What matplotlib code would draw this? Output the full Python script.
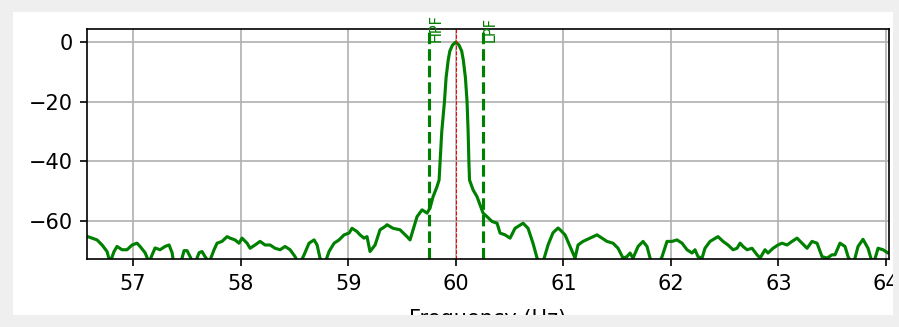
import matplotlib
matplotlib.use("Agg")
import matplotlib.pyplot as plt
from matplotlib.patches import Rectangle

# spectrum (Hz, dB)
freq = [56.572, 56.665, 56.712, 56.758, 56.786, 56.823, 56.851, 56.898, 56.944, 56.991,
        57.037, 57.065, 57.112, 57.149, 57.177, 57.205, 57.251, 57.297, 57.335, 57.363,
        57.381, 57.437, 57.474, 57.502, 57.530, 57.567, 57.614, 57.641, 57.669, 57.707,
        57.753, 57.781, 57.827, 57.874, 57.902, 57.948, 57.985, 58.013, 58.060, 58.088,
        58.134, 58.181, 58.227, 58.274, 58.320, 58.367, 58.413, 58.460, 58.506, 58.543,
        58.590, 58.636, 58.683, 58.711, 58.738, 58.776, 58.822, 58.869, 58.915, 58.962,
        59.008, 59.036, 59.082, 59.110, 59.147, 59.175, 59.203, 59.250, 59.296, 59.343,
        59.361, 59.417, 59.482, 59.547, 59.575, 59.603, 59.640, 59.687, 59.733, 59.761,
        59.789, 59.826, 59.845, 59.855, 59.870, 59.895, 59.910, 59.930, 59.945, 59.970,
        60.000, 60.030, 60.055, 60.070, 60.090, 60.105, 60.115, 60.122, 60.128, 60.161,
        60.198, 60.226, 60.254, 60.291, 60.337, 60.384, 60.412, 60.458, 60.505, 60.551,
        60.626, 60.672, 60.718, 60.756, 60.802, 60.858, 60.904, 60.951, 60.970, 61.016,
        61.062, 61.109, 61.137, 61.183, 61.248, 61.313, 61.360, 61.406, 61.462, 61.509,
        61.555, 61.592, 61.620, 61.648, 61.695, 61.741, 61.778, 61.825, 61.881, 61.918,
        61.964, 62.011, 62.057, 62.104, 62.150, 62.197, 62.224, 62.252, 62.290, 62.317,
        62.364, 62.438, 62.485, 62.531, 62.578, 62.615, 62.643, 62.671, 62.708, 62.754,
        62.801, 62.829, 62.875, 62.903, 62.950, 62.996, 63.033, 63.080, 63.126, 63.173,
        63.219, 63.266, 63.312, 63.359, 63.405, 63.452, 63.498, 63.526, 63.572, 63.619,
        63.647, 63.693, 63.740, 63.786, 63.833, 63.879, 63.926, 63.972, 64.019, 64.040]
power_db = [-65.2, -66.4, -68.1, -70.3, -74.0, -70.3, -68.6, -69.7, -69.7, -68.1,
            -67.5, -68.6, -70.7, -74.0, -71.4, -69.1, -69.7, -68.6, -68.1, -70.7,
            -75.0, -75.0, -70.0, -70.0, -72.0, -75.0, -70.7, -70.3, -72.0, -74.0,
            -69.7, -67.5, -66.9, -65.3, -65.8, -66.4, -67.5, -65.8, -67.5, -69.2,
            -68.1, -66.9, -68.1, -68.1, -69.2, -69.7, -68.6, -69.7, -72.0, -75.0,
            -71.4, -67.5, -66.4, -68.1, -72.5, -75.0, -70.3, -67.5, -66.4, -64.7,
            -64.1, -62.5, -63.6, -64.7, -65.8, -65.3, -70.3, -68.1, -63.0, -61.9,
            -61.3, -62.5, -63.0, -65.3, -66.4, -63.0, -58.6, -56.3, -57.4, -55.7,
            -51.9, -48.5, -46.3, -40.0, -30.0, -20.0, -12.0, -6.0, -3.0, -1.0,
            0.0, -1.0, -3.0, -6.0, -12.0, -20.0, -30.0, -40.0, -46.3, -49.6,
            -51.9, -54.6, -57.4, -58.6, -60.2, -60.8, -64.1, -64.7, -65.8, -62.5,
            -60.8, -62.5, -67.5, -72.5, -75.0, -68.1, -64.0, -62.4, -63.0, -64.7,
            -68.6, -72.5, -68.1, -66.9, -65.8, -64.7, -65.8, -66.9, -67.5, -69.2,
            -72.5, -72.0, -70.8, -72.5, -68.6, -66.9, -68.6, -75.0, -75.0, -72.0,
            -66.9, -66.9, -66.4, -67.5, -69.7, -70.8, -69.7, -72.0, -72.5, -69.2,
            -66.9, -65.3, -66.9, -68.1, -69.7, -69.2, -67.5, -68.6, -69.7, -69.2,
            -71.4, -72.5, -69.7, -70.8, -69.2, -68.1, -67.5, -68.1, -66.9, -65.8,
            -67.5, -69.2, -66.9, -67.5, -72.0, -72.5, -71.4, -71.4, -67.5, -68.6,
            -72.0, -75.0, -68.6, -66.2, -69.2, -75.0, -69.2, -69.7, -70.8, -70.5]

f0 = 60.0
hpf_cut = 59.75
lpf_cut = 60.25

fig = plt.figure(figsize=(899 / 150, 327 / 150), dpi=150)
ax = fig.add_axes([0.0968, 0.2080, 0.8921, 0.7034])

ax.plot(freq, power_db, color='g')
ax.axvline(f0, color='r', lw=0.5, ls='--')
ax.axvline(hpf_cut, color='g', ls='--')
ax.axvline(lpf_cut, color='g', ls='--')
ax.text(hpf_cut, 0, 'HPF', rotation=90, va='bottom', color='g', fontsize=7)
ax.text(lpf_cut, 0, 'LPF', rotation=90, va='bottom', color='g', fontsize=7)

ax.set_xlim(56.572, 64.028)
ax.set_ylim(-72.8, 4.4)
ax.set_xlabel('Frequency (Hz)', labelpad=7.5)
ax.grid(True)

# light grey frame around the figure, as in the screenshot
grey = '#efefef'
W, H = 899, 327
for x, y, w, h in [(0, 0, W, 12), (0, 0, 13, H), (893, 0, 6, H), (0, 315, W, 12)]:
    fig.add_artist(Rectangle((x / W, 1 - (y + h) / H), w / W, h / H,
                             transform=fig.transFigure, color=grey, lw=0, zorder=10))

plt.savefig('out.png', dpi=150)
